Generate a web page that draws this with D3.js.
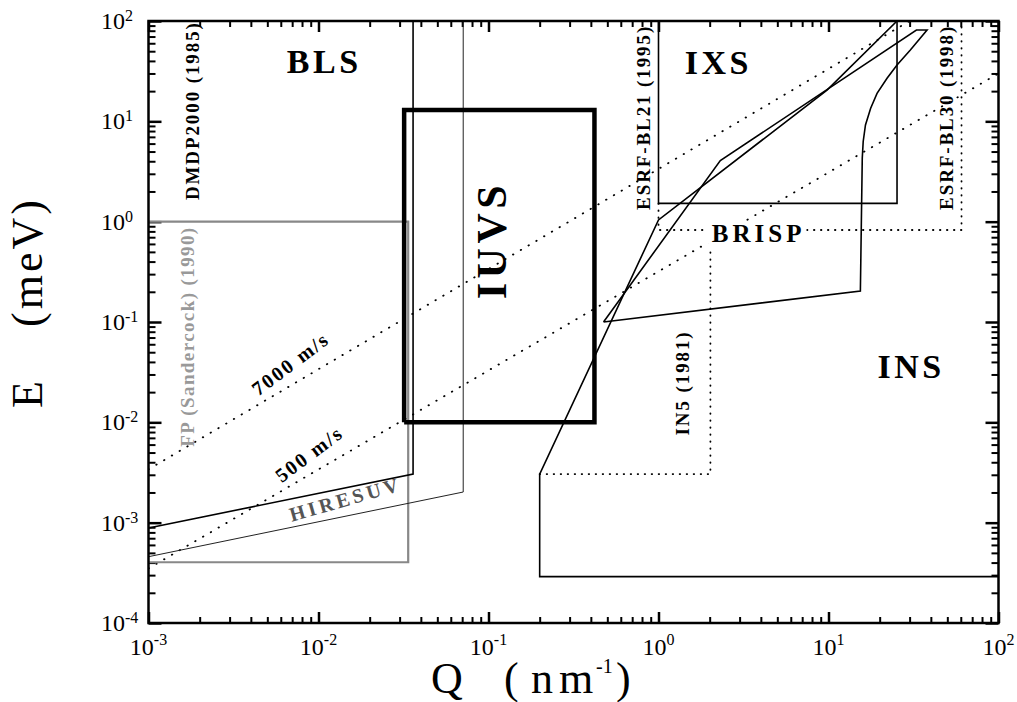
<!DOCTYPE html>
<html>
<head>
<meta charset="utf-8">
<script src="https://cdn.jsdelivr.net/npm/d3@7"></script>
<style>
  body { margin: 0; background: #fff; }
  svg { display: block; font-family: "Liberation Serif", "Times New Roman", serif; }
  .lbl { font-weight: bold; fill: #000; }
</style>
</head>
<body>
<svg id="chart" width="1017" height="702"></svg>
<script>
// Q in nm^-1, E in meV
const xMajor = [1e-3, 1e-2, 1e-1, 1, 10, 100];
const xExponents = ["-3", "-2", "-1", "0", "1", "2"];
const yMajor = [1e-4, 1e-3, 1e-2, 1e-1, 1, 10, 100];
const yExponents = ["-4", "-3", "-2", "-1", "0", "1", "2"];

// instrument regions as [Q, E]
const dmdp2000 = [[0.001, 8.85e-4], [0.036, 3.05e-3], [0.036, 100]];
const hiresuv = [[0.001, 4.58e-4], [0.071, 2.02e-3], [0.071, 100]];
const fpSandercock = [[0.001, 1.0], [0.0337, 1.0], [0.0337, 4.03e-4], [0.001, 4.03e-4]];
const iuvs = [[0.0319, 0.01], [0.42, 0.01], [0.42, 13], [0.0319, 13], [0.0319, 0.01]];
const ins = [[100, 2.9e-4], [0.2, 2.9e-4], [0.2, 3.05e-3], [1.0, 1.04], [9.8, 20.5], [25.3, 100]];
const in5 = [[0.2, 3.05e-3], [2.02, 3.05e-3], [2.02, 0.52]];
const esrfBL21 = [[1.0, 100], [1.0, 1.52], [25.3, 1.52], [25.3, 100]];
const esrfBL30 = [[1.0, 1.52], [1.0, 0.826], [60.6, 0.826], [60.6, 100]];
const brisp = [[0.475, 0.1], [15.4, 0.204], [15.8, 4.3], [16.0, 6.3], [16.5, 9.2], [17.7, 13.5],
               [19.3, 19], [22.1, 26.9], [25.3, 36.4], [30.3, 51.4], [38.0, 81.3], [32.9, 81.3],
               [2.31, 4.06], [0.475, 0.1]];
const sound7000 = [[0.001, 0.0034], [30, 100]];
const sound500 = [[0.001, 3.5e-4], [100, 30]];

// text labels: anchor in [Q, E]
const regionLabels = [
  {text: "BLS", q: 0.0108, e: 30.3, cls: "big"},
  {text: "IXS", q: 2.25, e: 29.4, cls: "big"},
  {text: "INS", q: 30.6, e: 0.0277, cls: "big"},
  {text: "BRISP", q: 3.88, e: 0.63, cls: "brisp"},
  {text: "IUVS", q: 0.1265, e: 0.656, cls: "iuvs"}
];
const instrumentLabels = [
  {text: "DMDP2000  (1985)", q: 1.99e-3, e: 1.64, color: "#000"},
  {text: "FP (Sandercock)  (1990)", q: 1.84e-3, e: 5.7e-3, color: "#999"},
  {text: "ESRF-BL21  (1995)", q: 0.895, e: 1.31, color: "#000"},
  {text: "ESRF-BL30  (1998)", q: 54.3, e: 1.31, color: "#000"},
  {text: "IN5 (1981)", q: 1.52, e: 7.4e-3, color: "#000"}
];
const slopeLabels = [
  {text: "7000 m/s", q: 4.42e-3, e: 0.018, angle: -37, color: "#000"},
  {text: "500 m/s", q: 6.08e-3, e: 2.47e-3, angle: -37, color: "#000"},
  {text: "HIRESUV", q: 6.96e-3, e: 1.02e-3, angle: -16, color: "#555"}
];

const svg = d3.select("#chart");
const x = d3.scaleLog().domain([1e-3, 1e2]).range([148.5, 998.5]);
const y = d3.scaleLog().domain([1e-4, 1e2]).range([623, 21]);
const [x0, x1] = x.range();
const [y0, y1] = y.range();

function minorsOf(majors) {
  let out = [];
  majors.slice(0, -1).forEach(m => { for (let k = 2; k <= 9; k++) out.push(k * m); });
  return out;
}
const xMinor = minorsOf(xMajor);
const yMinor = minorsOf(yMajor);

svg.append("defs").append("clipPath").attr("id", "plotclip")
  .append("rect").attr("x", x0).attr("y", y1).attr("width", x1 - x0).attr("height", y0 - y1);

// ticks, all pointing inward
function ticks(axis, tr, vals, len, w) {
  const g = svg.append("g").attr("transform", tr)
    .call(axis.tickValues(vals).tickSize(-len).tickFormat(""));
  g.select(".domain").remove();
  g.selectAll(".tick line").attr("stroke", "#000").attr("stroke-width", w);
}
ticks(d3.axisBottom(x), `translate(0,${y0})`, xMinor, 6, 2);
ticks(d3.axisBottom(x), `translate(0,${y0})`, xMajor, 11, 2.5);
ticks(d3.axisTop(x), `translate(0,${y1})`, xMinor, 6, 2);
ticks(d3.axisTop(x), `translate(0,${y1})`, xMajor, 11, 2.5);
ticks(d3.axisLeft(y), `translate(${x0},0)`, yMinor, 7, 2);
ticks(d3.axisLeft(y), `translate(${x0},0)`, yMajor, 13, 2.5);
ticks(d3.axisRight(y), `translate(${x1},0)`, yMinor, 7, 2);
ticks(d3.axisRight(y), `translate(${x1},0)`, yMajor, 13, 2.5);

// tick labels 10^n
xMajor.forEach((v, i) => {
  const t = svg.append("text").attr("x", x(v)).attr("y", 655)
    .attr("text-anchor", "middle").style("font-size", "24px");
  t.append("tspan").text("10");
  t.append("tspan").attr("dy", -10).style("font-size", "16px").text(xExponents[i]);
});
yMajor.forEach((v, i) => {
  const t = svg.append("text").attr("x", 101).attr("y", y(v) + 8)
    .style("font-size", "24px");
  t.append("tspan").text("10");
  t.append("tspan").attr("dy", -8).style("font-size", "16px").text(yExponents[i]);
});

// axis titles
const qt = svg.append("text").attr("y", 693).style("font-size", "44px");
qt.append("tspan").attr("x", 431).text("Q");
qt.append("tspan").attr("x", 504).text("(");
qt.append("tspan").attr("x", 531).text("n");
qt.append("tspan").attr("x", 559).text("m");
qt.append("tspan").attr("x", 596).attr("dy", -20).style("font-size", "20px").text("-1");
qt.append("tspan").attr("x", 616).attr("dy", 20).text(")");

svg.append("text").attr("transform", "translate(42,408) rotate(-90)")
  .style("font-size", "44px").text("E");
svg.append("text").attr("transform", "translate(42,327) rotate(-90)")
  .style("font-size", "44px").style("letter-spacing", "3px").text("(meV)");

// regions
const line = d3.line().x(d => x(d[0])).y(d => y(d[1]));
const plot = svg.append("g").attr("clip-path", "url(#plotclip)");
function path(data, stroke, width, dash) {
  const p = plot.append("path").datum(data).attr("d", line)
    .attr("fill", "none").attr("stroke", stroke).attr("stroke-width", width)
    .attr("stroke-linejoin", "miter");
  if (dash) p.attr("stroke-dasharray", dash).attr("stroke-linecap", "round");
  return p;
}
path(sound7000, "#000", 1.8, "0.5,8.5");
path(sound500, "#000", 1.8, "0.5,8.5");
path(in5, "#000", 1.8, "0.5,6.5");
path(esrfBL30, "#000", 1.8, "0.5,6.5");
path(fpSandercock, "#888", 2.2);
path(hiresuv, "#222", 1);
path(dmdp2000, "#000", 1.6);
path(iuvs, "#000", 4.5);
path(ins, "#000", 1.6);
path(esrfBL21, "#000", 1.6);
path(brisp, "#000", 1.6);

// frame
svg.append("rect").attr("x", x0).attr("y", y1).attr("width", x1 - x0).attr("height", y0 - y1)
  .attr("fill", "none").attr("stroke", "#000").attr("stroke-width", 2.5);

// labels
const labelStyle = {
  big: {size: 34, ls: 3.5, rot: 0},
  brisp: {size: 25, ls: 4, rot: 0},
  iuvs: {size: 42, ls: 4.5, rot: -90}
};
regionLabels.forEach(d => {
  const s = labelStyle[d.cls];
  const t = svg.append("text").attr("class", "lbl")
    .attr("transform", `translate(${x(d.q)},${y(d.e)}) rotate(${s.rot})`)
    .attr("text-anchor", "middle")
    .style("font-size", s.size + "px").style("letter-spacing", s.ls + "px")
    .text(d.text);
  if (d.cls === "brisp") {
    const b = t.node().getBBox();
    svg.insert("rect", () => t.node())
      .attr("transform", `translate(${x(d.q)},${y(d.e)})`)
      .attr("x", b.x - 5).attr("y", b.y + 3).attr("width", b.width + 6).attr("height", b.height - 6)
      .attr("fill", "#fff");
  }
});
instrumentLabels.forEach(d => {
  svg.append("text").attr("class", "lbl")
    .attr("transform", `translate(${x(d.q)},${y(d.e)}) rotate(-90)`)
    .style("font-size", "19px")
    .style("letter-spacing", d.text.startsWith("FP") ? "1.4px" : "1.9px")
    .style("fill", d.color)
    .text(d.text);
});
slopeLabels.forEach(d => {
  svg.append("text").attr("class", "lbl")
    .attr("transform", `translate(${x(d.q)},${y(d.e)}) rotate(${d.angle})`)
    .style("font-size", "20px").style("letter-spacing", d.text === "HIRESUV" ? "3.5px" : "2px")
    .style("fill", d.color)
    .text(d.text);
});
</script>
</body>
</html>
